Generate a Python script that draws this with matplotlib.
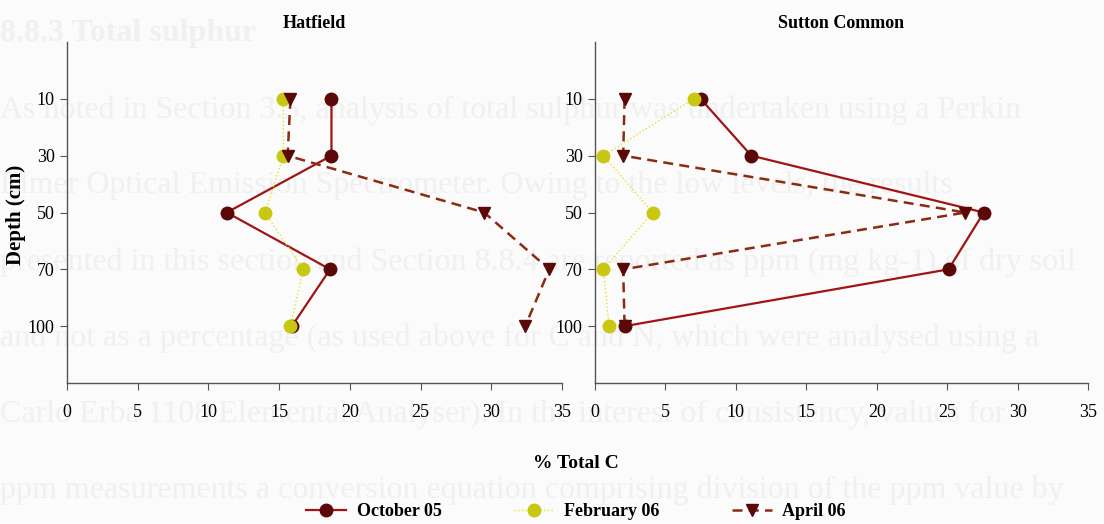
import numpy as np
import matplotlib
matplotlib.use('Agg')
import matplotlib.pyplot as plt
from matplotlib.lines import Line2D

plt.rcParams['font.family'] = 'Liberation Serif'

depths = ['10', '30', '50', '70', '100']
series = ['October 05', 'February 06', 'April 06']

# % total C down the profile, one list per sampling date
hatfield_oct = [18.7, 18.7, 11.3, 18.6, 15.9]
hatfield_feb = [15.3, 15.3, 14.0, 16.7, 15.8]
hatfield_apr = [15.8, 15.6, 29.5, 34.1, 32.4]

sutton_oct = [7.5, 11.1, 27.6, 25.1, 2.1]
sutton_feb = [7.0, 0.6, 4.1, 0.6, 1.0]
sutton_apr = [2.1, 2.0, 26.3, 2.0, 2.1]

page_lines = [
    'As noted in Section 3.5, analysis of total sulphur was undertaken using a Perkin',
    'Elmer Optical Emission Spectrometer. Owing to the low levels, the results',
    'presented in this section and Section 8.8.4 are reported as ppm (mg kg-1) of dry soil',
    'and not as a percentage (as used above for C and N, which were analysed using a',
    'Carlo Erba 1108 Elemental Analyser). In the interest of consistency, values for',
    'ppm measurements a conversion equation comprising division of the ppm value by',
]

styles = {
    'October 05': dict(color='#a01414', lw=1.6, ls='-', marker='o', ms=9,
                       mfc='#5a0808', mec='#5a0808'),
    'February 06': dict(color='#e8e020', lw=1.0, ls=':', marker='o', ms=9,
                        mfc='#c8c812', mec='#c8c812'),
    'April 06': dict(color='#8c2a12', lw=1.8, ls=(0, (4, 2.5)), marker='v', ms=9,
                     mfc='#5a0808', mec='#5a0808'),
}

fig = plt.figure(figsize=(11.04, 5.24), dpi=100, facecolor='#fbfbfb')

# faint page text showing through behind the plots
fig.text(0.0, 1 - 33 / 524, '8.8.3 Total sulphur', fontsize=23, fontweight='bold',
         color='#f0f0f0', va='center', ha='left', zorder=-5)
for i, line in enumerate(page_lines):
    fig.text(0.0, 1 - (110 + 76 * i) / 524, line, fontsize=23, color='#f0f0f0',
             va='center', ha='left', zorder=-5)

ax1 = fig.add_axes([67 / 1104, 1 - 383 / 524, 495 / 1104, 341 / 524])
ax2 = fig.add_axes([595 / 1104, 1 - 383 / 524, 493 / 1104, 341 / 524])

ypos = np.arange(1, len(depths) + 1)
panels = [
    (ax1, 'Hatfield', [hatfield_oct, hatfield_feb, hatfield_apr]),
    (ax2, 'Sutton Common', [sutton_oct, sutton_feb, sutton_apr]),
]

for ax, title, vals in panels:
    ax.set_facecolor('none')
    for name, v in zip(series, vals):
        ax.plot(v, ypos, **styles[name])
    ax.set_xlim(0, 35)
    ax.set_ylim(6, 0)
    ax.set_yticks(ypos)
    ax.set_yticklabels(depths)
    ax.set_xticks(range(0, 36, 5))
    ax.spines['top'].set_visible(False)
    ax.spines['right'].set_visible(False)
    for s in ['left', 'bottom']:
        ax.spines[s].set_color('#555555')
        ax.spines[s].set_linewidth(1.0)
    ax.tick_params(axis='x', length=5, pad=10, labelsize=13, color='#555555')
    ax.tick_params(axis='y', length=5, pad=4, labelsize=13, color='#555555')
    ax.set_title(title, fontsize=13, fontweight='bold', pad=10)

fig.text(16 / 1104, 1 - 215 / 524, 'Depth (cm)', rotation=90, fontsize=15,
         fontweight='bold', ha='center', va='center')
fig.text(576 / 1104, 1 - 463 / 524, '% Total C', fontsize=14, fontweight='bold',
         ha='center', va='center')

handles = [Line2D([], [], **styles[name]) for name in series]
fig.legend(handles, series, loc='center', bbox_to_anchor=(576 / 1104, 1 - 512 / 524),
           ncol=3, frameon=False, prop={'weight': 'bold', 'size': 13},
           handlelength=2.2, columnspacing=4.0, handletextpad=0.6)

fig.savefig('out.png', dpi=100, facecolor=fig.get_facecolor())
